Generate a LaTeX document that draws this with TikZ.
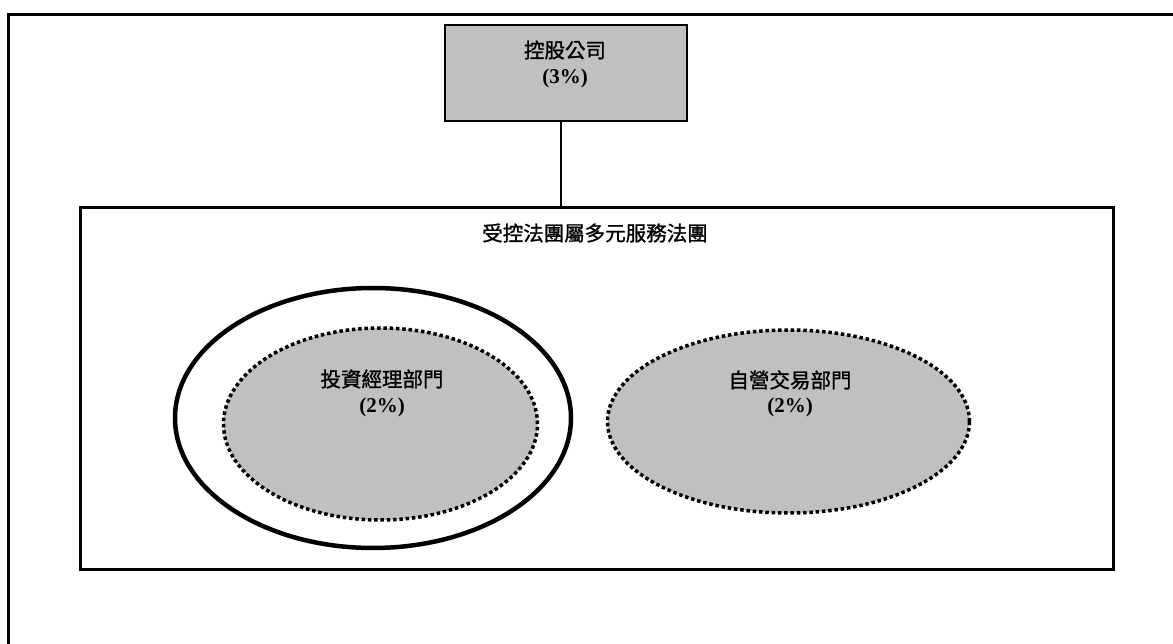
\documentclass[tikz,border=0pt]{standalone}
\usepackage{fontspec}
\setmainfont{Liberation Serif}
\newfontfamily\cjk[FakeBold=1.2]{Noto Sans CJK TC}
\usetikzlibrary{shapes.geometric}
\definecolor{boxgray}{RGB}{192,192,192}
\tikzset{
  frameline/.style={line width=2.5pt},
  topbox/.style={draw, line width=2.5pt, fill=boxgray, minimum width=242pt, minimum height=96pt, inner sep=0pt},
  groupbox/.style={draw, line width=3pt, minimum width=1033pt, minimum height=361pt, inner sep=0pt},
  solidell/.style={draw, ellipse, line width=4.5pt, inner sep=0pt},
  dotell/.style={draw, ellipse, line width=3.5pt, dash pattern=on 3.5pt off 2.8pt, fill=boxgray, inner sep=0pt},
  cjklabel/.style={font=\cjk\fontsize{20.5}{24}\selectfont, inner sep=0pt},
  pctlabel/.style={font=\bfseries\fontsize{21}{24}\selectfont, inner sep=0pt},
  link/.style={line width=1.8pt}
}
\begin{document}
\begin{tikzpicture}[x=1pt,y=-1pt]
\useasboundingbox (0,0) rectangle (1173,644);
\fill[white] (0,0) rectangle (1173,644);
% outer frame (top and left edges)
\coordinate (fr1) at (1173,14.5);
\coordinate (fr2) at (8.5,14.5);
\coordinate (fr3) at (8.5,644);
\draw[frameline] (fr1) -- (fr2) -- (fr3);
% top box
\node[topbox] (hold) at (566,73) {};
\node[cjklabel] (holdt) at (565,50) {控股公司};
\node[pctlabel] (holdp) at (565,78) {(3\%)};
% group box
\node[groupbox] (group) at (596.5,388.5) {};
\node[cjklabel] (groupt) at (595,233) {受控法團屬多元服務法團};
\draw[link] ([xshift=-5pt]hold.south) -- ([xshift=-5pt]hold.south |- group.north);
% left ellipses
\node[solidell, minimum width=396pt, minimum height=260pt] (outerell) at (373,418) {};
\node[dotell, minimum width=314pt, minimum height=192pt] (invell) at (380.5,424) {};
\node[cjklabel] (invt) at (382,379) {投資經理部門};
\node[pctlabel] (invp) at (382,407) {(2\%)};
% right ellipse
\node[dotell, minimum width=362pt, minimum height=183pt] (propell) at (788.5,421.5) {};
\node[cjklabel] (propt) at (790,380) {自營交易部門};
\node[pctlabel] (propp) at (790,407) {(2\%)};
\end{tikzpicture}
\end{document}
